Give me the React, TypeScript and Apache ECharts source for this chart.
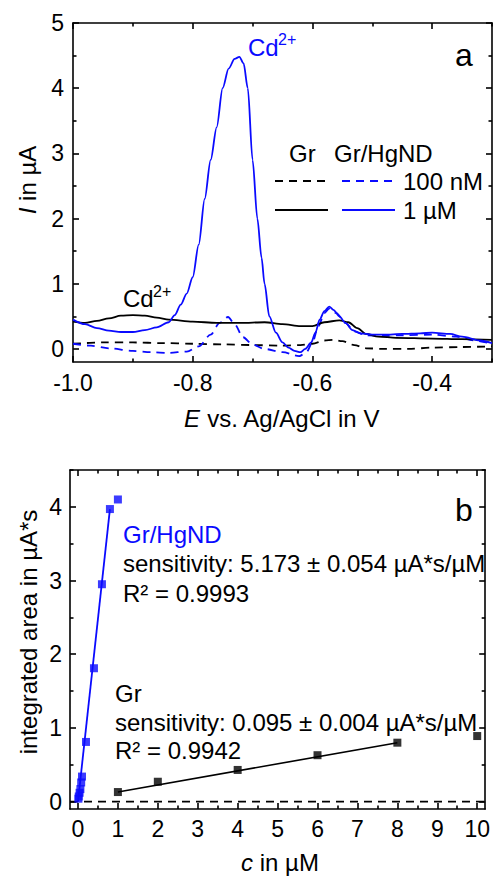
import React, { useEffect, useRef } from "react";
import * as echarts from "echarts";

const FONT = '"Liberation Sans", Arial, Helvetica, sans-serif';
const BLUE = "#0a0aff";
const BLACK = "#000000";

// ---- Panel a: stripping voltammograms (E in V, I in µA)
const grHgND1uM: number[][] = [
  [-1.0, 0.45], [-0.98, 0.38], [-0.96, 0.32], [-0.94, 0.28], [-0.92, 0.26], [-0.9, 0.26],
  [-0.88, 0.29], [-0.86, 0.33], [-0.84, 0.41], [-0.83, 0.52], [-0.82, 0.68], [-0.81, 0.85],
  [-0.8, 1.1], [-0.79, 1.6], [-0.78, 2.3], [-0.77, 2.9], [-0.76, 3.4], [-0.75, 4.0],
  [-0.74, 4.3], [-0.73, 4.45], [-0.722, 4.48], [-0.715, 4.38], [-0.708, 4.0], [-0.7, 2.9],
  [-0.692, 2.0], [-0.685, 1.4], [-0.68, 1.0], [-0.672, 0.5], [-0.661, 0.25], [-0.65, 0.1],
  [-0.64, 0.02], [-0.63, -0.03], [-0.62, -0.05], [-0.612, 0.0], [-0.602, 0.1], [-0.595, 0.25],
  [-0.588, 0.45], [-0.58, 0.58], [-0.572, 0.65], [-0.565, 0.6], [-0.555, 0.5], [-0.545, 0.4],
  [-0.533, 0.29], [-0.52, 0.24], [-0.5, 0.22], [-0.48, 0.22], [-0.45, 0.23], [-0.42, 0.24],
  [-0.4, 0.25], [-0.37, 0.23], [-0.35, 0.19], [-0.32, 0.13], [-0.3, 0.09],
];
const grHgND100nM: number[][] = [
  [-1.0, 0.08], [-0.97, 0.05], [-0.94, 0.01], [-0.9, -0.03], [-0.87, -0.05], [-0.84, -0.06],
  [-0.81, -0.04], [-0.79, 0.04], [-0.77, 0.22], [-0.755, 0.4], [-0.741, 0.49], [-0.73, 0.38],
  [-0.716, 0.18], [-0.7, 0.07], [-0.68, 0.0], [-0.65, -0.05], [-0.622, -0.11], [-0.61, -0.05],
  [-0.6, 0.1], [-0.59, 0.35], [-0.58, 0.55], [-0.572, 0.62], [-0.56, 0.55], [-0.545, 0.4],
  [-0.53, 0.27], [-0.51, 0.21], [-0.48, 0.2], [-0.45, 0.21], [-0.4, 0.22], [-0.36, 0.19],
  [-0.33, 0.13], [-0.3, 0.08],
];
const gr1uM: number[][] = [
  [-1.0, 0.42], [-0.98, 0.4], [-0.96, 0.43], [-0.94, 0.47], [-0.92, 0.51], [-0.9, 0.52],
  [-0.88, 0.51], [-0.86, 0.48], [-0.84, 0.45], [-0.8, 0.42], [-0.76, 0.4], [-0.72, 0.4],
  [-0.68, 0.41], [-0.65, 0.38], [-0.62, 0.35], [-0.6, 0.35], [-0.58, 0.41], [-0.555, 0.44],
  [-0.54, 0.41], [-0.525, 0.32], [-0.51, 0.23], [-0.49, 0.19], [-0.46, 0.17], [-0.4, 0.16],
  [-0.35, 0.15], [-0.3, 0.14],
];
const gr100nM: number[][] = [
  [-1.0, 0.08], [-0.95, 0.1], [-0.9, 0.1], [-0.85, 0.09], [-0.8, 0.08], [-0.75, 0.07],
  [-0.7, 0.06], [-0.65, 0.05], [-0.62, 0.06], [-0.6, 0.08], [-0.58, 0.13], [-0.565, 0.14],
  [-0.55, 0.12], [-0.53, 0.06], [-0.51, 0.01], [-0.48, 0.0], [-0.44, 0.0], [-0.4, 0.02],
  [-0.35, 0.03], [-0.3, 0.04],
];

// ---- Panel b: calibration (c in µM, integrated area in µA*s)
const grHgNDConc = [0.01, 0.02, 0.04, 0.06, 0.08, 0.1, 0.2, 0.4, 0.6, 0.8, 1.0];
const grHgNDArea = [0.04, 0.07, 0.12, 0.17, 0.26, 0.34, 0.81, 1.81, 2.95, 3.97, 4.1];
const grHgNDFit: number[][] = [[0.0, 0.0], [0.8, 3.97]];
const grConc = [1, 2, 4, 6, 8, 10];
const grArea = [0.13, 0.27, 0.43, 0.63, 0.8, 0.89];
const grFit: number[][] = [[1, 0.13], [8, 0.8]];
const zeroLine: number[][] = [[-0.2, 0], [10.2, 0]];

// ---- Tick values
const aXMajor = [-1.0, -0.8, -0.6, -0.4];
const aXMinor = [-0.9, -0.7, -0.5, -0.3];
const aYMajor = [0, 1, 2, 3, 4, 5];
const aYMinor = [0.5, 1.5, 2.5, 3.5, 4.5];
const bXMajor = [0, 1, 2, 3, 4, 5, 6, 7, 8, 9, 10];
const bXMinor = [0.5, 1.5, 2.5, 3.5, 4.5, 5.5, 6.5, 7.5, 8.5, 9.5];
const bYMajor = [0, 1, 2, 3, 4];
const bYMinor = [0.5, 1.5, 2.5, 3.5, 4.5];

function frameAxes(
  kind: "x" | "y",
  gridIndex: number,
  min: number,
  max: number,
  majors: number[],
  minors: number[],
  margin: number,
  fmt: (v: number) => string
) {
  const pos = kind === "x" ? ["bottom", "top"] : ["left", "right"];
  const line = { color: BLACK, width: 1.6 };
  const base: any = {
    type: "value",
    gridIndex,
    min,
    max,
    scale: false,
    splitLine: { show: false },
  };
  return [
    {
      ...base,
      position: pos[0],
      axisLine: { show: true, onZero: false, lineStyle: line },
      axisTick: { show: true, inside: true, length: 6, customValues: majors, lineStyle: line },
      axisLabel: {
        show: true,
        customValues: majors,
        margin,
        color: BLACK,
        fontSize: 23,
        fontFamily: FONT,
        formatter: (v: number) => fmt(v),
      },
    },
    {
      ...base,
      position: pos[0],
      axisLine: { show: false, onZero: false },
      axisTick: { show: true, inside: true, length: 3.5, customValues: minors, lineStyle: line },
      axisLabel: { show: false },
    },
    {
      ...base,
      position: pos[1],
      axisLine: { show: true, onZero: false, lineStyle: line },
      axisTick: { show: true, inside: true, length: 6, customValues: majors, lineStyle: line },
      axisLabel: { show: false },
    },
    {
      ...base,
      position: pos[1],
      axisLine: { show: false, onZero: false },
      axisTick: { show: true, inside: true, length: 3.5, customValues: minors, lineStyle: line },
      axisLabel: { show: false },
    },
  ];
}

function txt(x: number, y: number, text: string, opts: any = {}) {
  const size = opts.size ?? 24;
  const align = opts.align ?? "left";
  return {
    type: "text",
    x,
    y,
    rotation: opts.rotation ?? 0,
    style: {
      text,
      fill: opts.color ?? BLACK,
      fontSize: size,
      fontFamily: FONT,
      fontStyle: "normal",
      align,
      textAlign: align,
      verticalAlign: "middle",
      textVerticalAlign: "middle",
      rich: opts.rich,
    },
  };
}

function seg(x1: number, y1: number, x2: number, y2: number, color: string, dashed: boolean) {
  return {
    type: "line",
    shape: { x1, y1, x2, y2 },
    style: { stroke: color, lineWidth: 1.8, lineDash: dashed ? [8, 6] : null },
  };
}

const italicRich = {
  i: { fontStyle: "italic", fontSize: 24, fontFamily: FONT, fill: BLACK },
  n: { fontSize: 24, fontFamily: FONT, fill: BLACK },
};

export default function App() {
  const ref = useRef<HTMLDivElement>(null);

  useEffect(() => {
    if (!ref.current) return;
    const chart = echarts.init(ref.current, undefined, { renderer: "svg" });

    const xAxes = [
      ...frameAxes("x", 0, -1.0, -0.3, aXMajor, aXMinor, 9, (v) => v.toFixed(1)),
      ...frameAxes("x", 1, -0.2, 10.2, bXMajor, bXMinor, 8, (v) => String(Math.round(v))),
    ];
    const yAxes = [
      ...frameAxes("y", 0, -0.2, 5, aYMajor, aYMinor, 9, (v) => String(Math.round(v))),
      ...frameAxes("y", 1, -0.1, 4.5, bYMajor, bYMinor, 8, (v) => String(Math.round(v))),
    ];

    const lineA = (name: string, data: number[][], color: string, dashed: boolean) => ({
      name,
      type: "line",
      xAxisIndex: 0,
      yAxisIndex: 0,
      data,
      smooth: 0.3,
      smoothMonotone: "x",
      showSymbol: false,
      symbol: "none",
      clip: true,
      lineStyle: { color, width: 1.8, type: dashed ? [8, 6] : "solid" },
      z: dashed ? 3 : 4,
    });

    const option: any = {
      animation: false,
      backgroundColor: "#ffffff",
      grid: [
        { left: 73, top: 23, width: 419, height: 339, containLabel: false },
        { left: 70, top: 470, width: 422, height: 339, containLabel: false },
      ],
      xAxis: xAxes,
      yAxis: yAxes,
      series: [
        lineA("Gr 100 nM", gr100nM, BLACK, true),
        lineA("Gr/HgND 100 nM", grHgND100nM, BLUE, true),
        lineA("Gr 1 µM", gr1uM, BLACK, false),
        lineA("Gr/HgND 1 µM", grHgND1uM, BLUE, false),
        {
          name: "zero",
          type: "line",
          xAxisIndex: 4,
          yAxisIndex: 4,
          data: zeroLine,
          symbol: "none",
          lineStyle: { color: BLACK, width: 1.6, type: [8, 6] },
          z: 2,
        },
        {
          name: "Gr/HgND fit",
          type: "line",
          xAxisIndex: 4,
          yAxisIndex: 4,
          data: grHgNDFit,
          symbol: "none",
          lineStyle: { color: BLUE, width: 1.8 },
          z: 3,
        },
        {
          name: "Gr fit",
          type: "line",
          xAxisIndex: 4,
          yAxisIndex: 4,
          data: grFit,
          symbol: "none",
          lineStyle: { color: BLACK, width: 1.6 },
          z: 3,
        },
        {
          name: "Gr/HgND",
          type: "scatter",
          xAxisIndex: 4,
          yAxisIndex: 4,
          data: grHgNDConc.map((c, i) => [c, grHgNDArea[i]]),
          symbol: "rect",
          symbolSize: 8,
          itemStyle: { color: BLUE },
          z: 5,
        },
        {
          name: "Gr",
          type: "scatter",
          xAxisIndex: 4,
          yAxisIndex: 4,
          data: grConc.map((c, i) => [c, grArea[i]]),
          symbol: "rect",
          symbolSize: 8,
          itemStyle: { color: BLACK },
          z: 5,
        },
      ],
      graphic: [
        // panel letters
        txt(455, 55, "a", { size: 32 }),
        txt(455, 510, "b", { size: 32 }),
        // legend (panel a)
        txt(289, 153, "Gr"),
        txt(334, 153, "Gr/HgND"),
        seg(275, 181, 328, 181, BLACK, true),
        seg(342, 181, 395, 181, BLUE, true),
        txt(403, 181, "100 nM"),
        seg(275, 210, 328, 210, BLACK, false),
        seg(342, 210, 395, 210, BLUE, false),
        txt(403, 210, "1 µM"),
        // Cd2+ annotations
        txt(248, 47, "Cd", { color: BLUE }),
        txt(278, 39, "2+", { color: BLUE, size: 16 }),
        txt(123, 298, "Cd"),
        txt(153, 291, "2+", { size: 16 }),
        // panel b annotations
        txt(123, 534, "Gr/HgND", { color: BLUE }),
        txt(123, 563, "sensitivity: 5.173 ± 0.054 µA*s/µM"),
        txt(123, 593, "R² = 0.9993"),
        txt(115, 693, "Gr"),
        txt(115, 722, "sensitivity: 0.095 ± 0.004 µA*s/µM"),
        txt(115, 750, "R² = 0.9942"),
        // axis titles
        txt(282, 418, "{i|E}{n| vs. Ag/AgCl in V}", { align: "center", rich: italicRich }),
        txt(27, 180, "{i|I}{n| in µA}", { align: "center", rotation: Math.PI / 2, rich: italicRich }),
        txt(280, 862, "{i|c}{n| in µM}", { align: "center", rich: italicRich }),
        txt(28, 632, "integrated area in µA*s", { align: "center", rotation: Math.PI / 2 }),
      ],
    };

    chart.setOption(option);
    return () => chart.dispose();
  }, []);

  return (
    <div
      ref={ref}
      style={{ position: "absolute", left: 0, top: 0, width: 493, height: 876, background: "#fff" }}
    />
  );
}
